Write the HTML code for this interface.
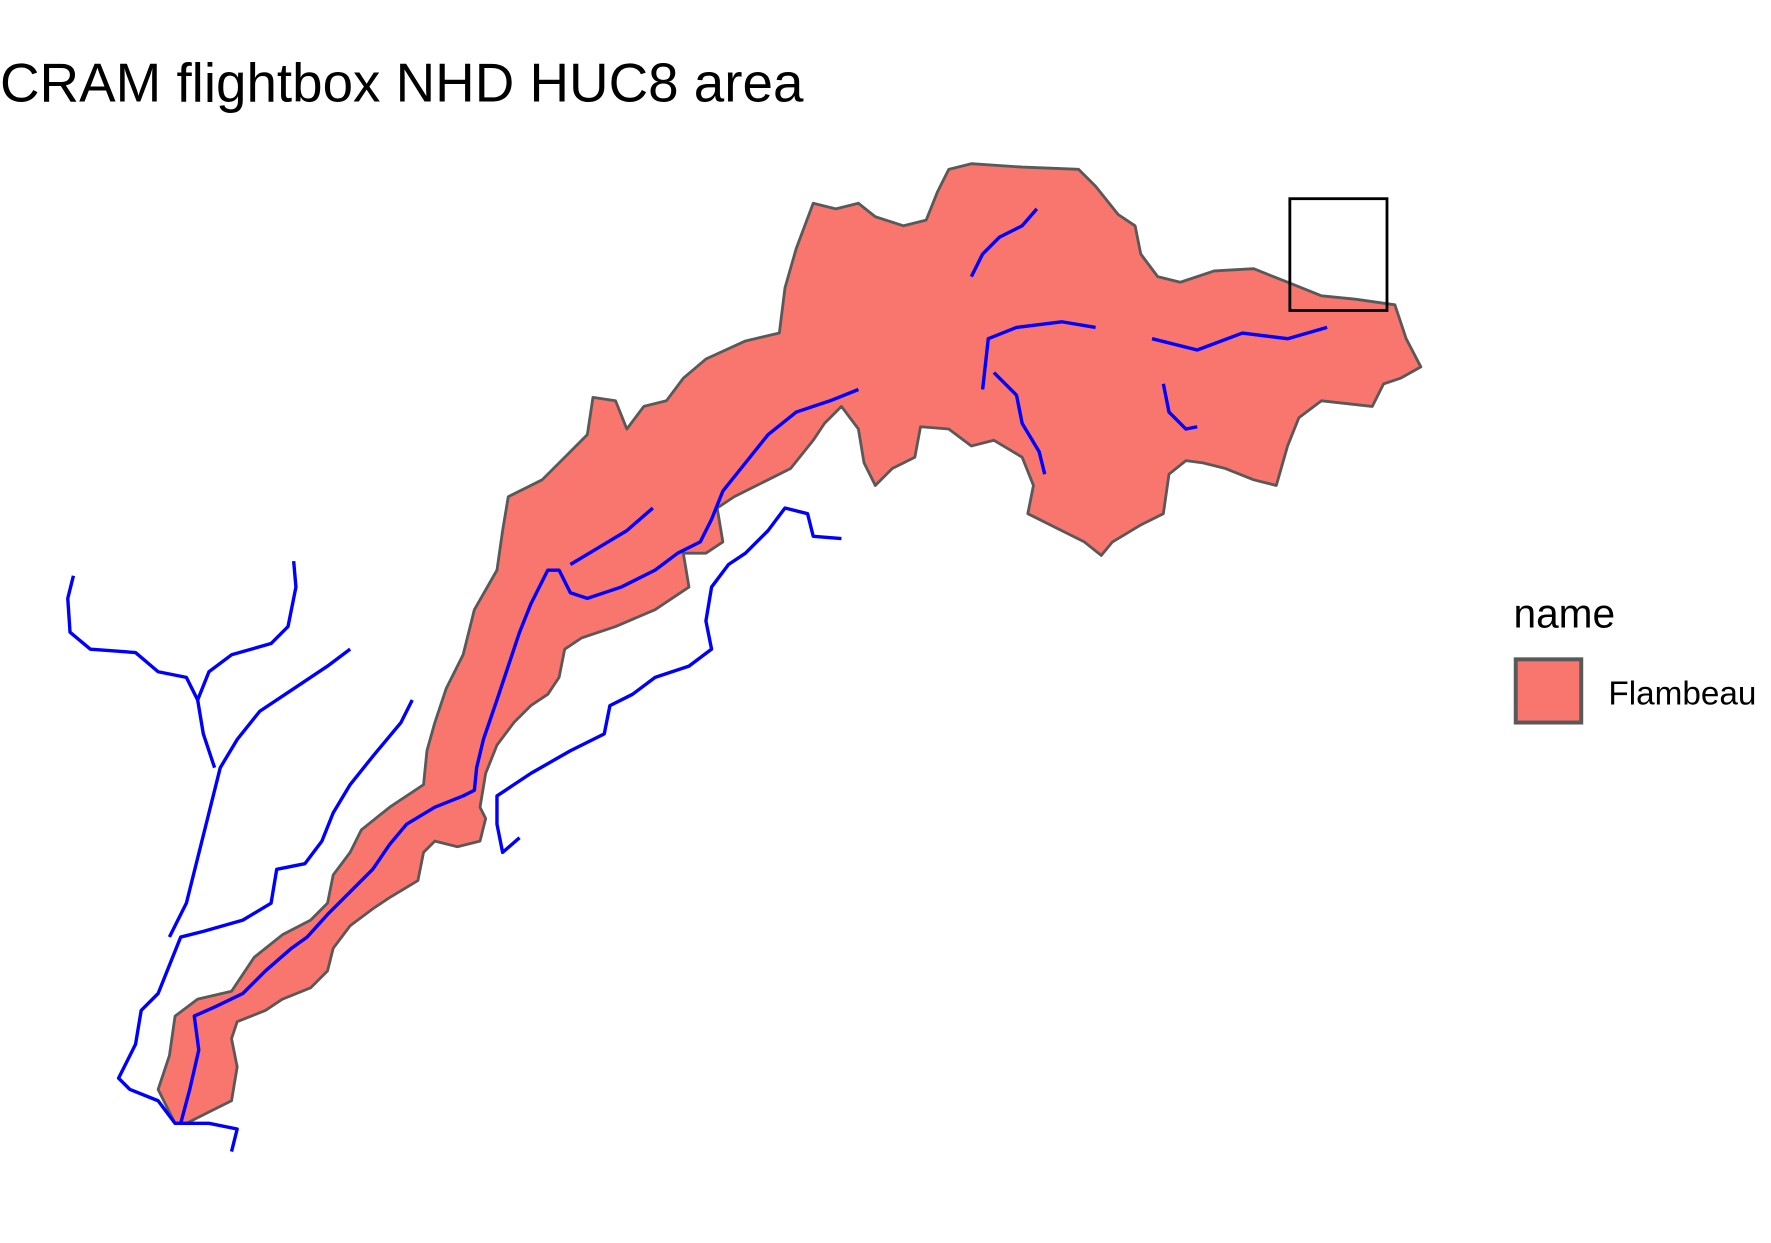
<!DOCTYPE html>
<html><head><meta charset="utf-8"><style>
html,body{margin:0;padding:0;background:#fff;}
svg{display:block;}
text{font-family:"Liberation Sans",Arial,sans-serif;fill:#000;}
</style></head><body>
<svg id="map" width="1771" height="1243" viewBox="0 0 1568 1101" preserveAspectRatio="none" xmlns="http://www.w3.org/2000/svg">
<rect width="1568" height="1101" fill="#fff"/>
<text x="0" y="90" font-size="48.5">CRAM flightbox NHD HUC8 area</text>
<g id="basin"></g>
<g id="rivers"></g>
<rect x="1142" y="176" width="86" height="99" fill="none" stroke="#000" stroke-width="2.5"/>
<g>
<text x="1340" y="556" font-size="36">name</text>
<rect x="1342" y="584" width="58" height="56" fill="#F8766D" stroke="#595959" stroke-width="3.5"/>
<text x="1424" y="624" font-size="29.5">Flambeau</text>
</g>
</svg>
<script>
const basinX=[155,140,150,155,175,205,225,250,275,290,295,310,320,345,375,378,385,395,410,420,440,445,450,480,505,520,525,545,555,570,590,605,625,660,690,695,705,720,740,760,775,800,820,830,840,860,905,955,970,990,1005,1010,1025,1045,1075,1110,1140,1170,1200,1235,1245,1258,1240,1225,1215,1170,1150,1140,1130,1110,1085,1065,1050,1035,1030,1010,985,975,960,940,910,915,905,880,860,840,815,810,790,775,765,760,745,730,720,700,680,650,635,640,625,605,610,580,545,515,500,495,485,470,455,440,430,425,430,425,405,385,375,370,345,330,310,295,290,275,250,235,210,205,210,205,185,165];
const basinY=[995,965,935,900,885,878,848,828,815,800,775,755,735,715,695,665,640,610,580,540,505,470,440,425,400,385,352,355,380,360,355,335,318,302,295,255,220,180,185,180,192,200,195,170,150,145,148,150,165,190,200,225,245,250,240,238,250,262,265,270,300,325,335,340,360,355,370,395,430,425,415,410,408,420,455,465,480,492,480,470,455,430,405,390,395,380,378,405,415,430,410,380,360,375,390,415,425,440,450,480,490,490,520,540,555,565,575,600,615,625,640,660,685,715,725,745,750,745,755,780,795,805,820,840,860,875,885,895,905,920,945,975,985,995];
const riverMainX=[160,168,176,172,190,215,235,258,272,290,310,330,345,360,385,410,420,422,428,440,450,460,470,485,495,505,520,550,580,600,620,630,640,660,680,705,735,760];
const riverMainY=[995,965,930,900,892,880,860,840,830,810,790,770,748,730,715,705,700,680,655,620,590,560,535,505,505,525,530,520,505,490,480,460,435,410,385,365,355,345];
const riverAX=[745,720,715,695,680,660,645,630,625,630,610,580,560,540,535,505,470,455,440,440,445,460];
const riverAY=[477,475,455,450,470,490,500,520,550,575,590,600,615,625,650,665,685,695,705,730,755,742];
const riverBX=[365,355,330,310,295,285,270,245,240,215,180,160,150,140,125,120,105,115,140,155,185,210,205];
const riverBY=[620,640,670,695,720,745,765,770,800,815,825,830,855,880,895,925,955,965,975,995,995,1000,1020];
const riverCX=[310,290,260,230,210,195,185,175,165,150];
const riverCY=[575,590,610,630,655,680,720,760,800,830];
const riverDX=[65,60,62,80,120,140,165,175,180,190];
const riverDY=[510,530,560,575,578,595,600,620,650,680];
const riverEX=[260,262,255,240,205,185,175];
const riverEY=[497,520,555,570,580,595,620];
const riverFX=[870,875,900,940,970];
const riverFY=[345,300,290,285,290];
const riverGX=[880,900,905,920,925];
const riverGY=[330,350,375,400,420];
const riverHX=[1020,1060,1100,1140,1175];
const riverHY=[300,310,295,300,290];
const riverIX=[505,530,555,578];
const riverIY=[500,485,470,450];
const riverJX=[860,870,885,905,918];
const riverJY=[245,225,210,200,185];
const riverKX=[1030,1035,1050,1060];
const riverKY=[340,365,380,378];
const NS='http://www.w3.org/2000/svg';
function pts(xs,ys){return xs.map((x,i)=>x+','+ys[i]).join(' ');}
const basin=document.createElementNS(NS,'polygon');
basin.setAttribute('points',pts(basinX,basinY));
basin.setAttribute('fill','#F8766D');
basin.setAttribute('stroke','#595959');
basin.setAttribute('stroke-width','2.5');
basin.setAttribute('stroke-linejoin','round');


document.getElementById('basin').appendChild(basin);
const rivers=[[riverMainX,riverMainY],[riverAX,riverAY],[riverBX,riverBY],[riverCX,riverCY],[riverDX,riverDY],[riverEX,riverEY],[riverFX,riverFY],[riverGX,riverGY],[riverHX,riverHY],[riverIX,riverIY],[riverJX,riverJY],[riverKX,riverKY]];
rivers.forEach(r=>{
  const p=document.createElementNS(NS,'polyline');
  p.setAttribute('points',pts(r[0],r[1]));
  p.setAttribute('fill','none');
  p.setAttribute('stroke','#0000FF');
  p.setAttribute('stroke-width','3');
  p.setAttribute('stroke-linejoin','round');
  
  
  document.getElementById('rivers').appendChild(p);
});
</script>
</body></html>
